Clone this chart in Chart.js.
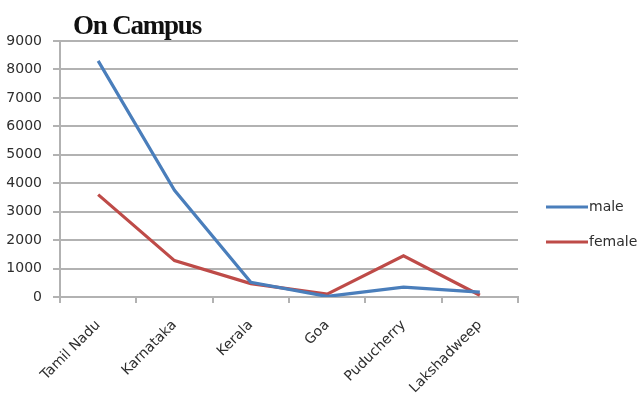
<!DOCTYPE html>
<html>
<head>
<meta charset="utf-8">
<script src="https://cdn.jsdelivr.net/npm/chart.js@4/dist/chart.umd.min.js"></script>
<style>
  html, body { margin: 0; padding: 0; background: #fff; }
  #wrap { width: 641px; height: 402px; position: relative; }
</style>
</head>
<body>
<div id="wrap"><canvas id="c" width="641" height="402"></canvas></div>
<script>
// Students on campus, by state
const titleText = 'On Campus';
const states = ['Tamil Nadu', 'Karnataka', 'Kerala', 'Goa', 'Puducherry', 'Lakshadweep'];
const male = [8300, 3750, 520, 20, 350, 170];
const female = [3600, 1280, 470, 100, 1450, 60];
const yTicks = [0, 1000, 2000, 3000, 4000, 5000, 6000, 7000, 8000, 9000];

const BLUE = '#4a7ebb';
const RED = '#be4b48';
const GRID = '#b2b2b2';
const TEXT = '#2e2e2e';
const SANS = '"DejaVu Sans", sans-serif';

// Title at top-left and a legend to the right of the plot
const decorations = {
  id: 'decorations',
  afterDraw(chart) {
    const ctx = chart.ctx;
    ctx.save();
    ctx.fillStyle = '#111';
    ctx.font = 'bold 27px "Liberation Serif", serif';
    ctx.letterSpacing = '-1.2px';
    ctx.textAlign = 'left';
    ctx.textBaseline = 'alphabetic';
    ctx.fillText(titleText, 73, 34);
    ctx.letterSpacing = '0px';

    const items = chart.data.datasets;
    items.forEach((ds, i) => {
      const y = 207 + i * 35;
      ctx.strokeStyle = ds.borderColor;
      ctx.lineWidth = 3;
      ctx.beginPath();
      ctx.moveTo(546, y);
      ctx.lineTo(588, y);
      ctx.stroke();
      ctx.fillStyle = TEXT;
      ctx.font = '14px ' + SANS;
      ctx.textBaseline = 'middle';
      ctx.fillText(ds.label, 589, y);
    });
    ctx.restore();
  }
};

new Chart(document.getElementById('c'), {
  type: 'line',
  data: {
    labels: states,
    datasets: [
      { label: 'male', data: male, borderColor: BLUE, backgroundColor: BLUE },
      { label: 'female', data: female, borderColor: RED, backgroundColor: RED }
    ]
  },
  options: {
    responsive: false,
    animation: false,
    devicePixelRatio: 1,
    layout: { padding: { top: 41, right: 123, left: 0, bottom: 0 } },
    elements: {
      line: { borderWidth: 3.2, tension: 0 },
      point: { radius: 0, hoverRadius: 0 }
    },
    plugins: {
      legend: { display: false },
      title: { display: false },
      tooltip: { enabled: false }
    },
    scales: {
      x: {
        offset: true,
        grid: { offset: true, drawOnChartArea: false, color: GRID, lineWidth: 2, tickLength: 6 },
        border: { color: GRID, width: 2 },
        ticks: {
          color: TEXT,
          font: { family: SANS, size: 14 },
          minRotation: 45,
          maxRotation: 45,
          padding: 14,
          autoSkip: false
        },
        afterFit(scale) { scale.height = 105; }
      },
      y: {
        min: 0,
        max: 9000,
        afterBuildTicks(scale) { scale.ticks = yTicks.map(v => ({ value: v })); },
        grid: { color: GRID, lineWidth: 2, tickLength: 7 },
        border: { color: GRID, width: 2 },
        ticks: {
          color: TEXT,
          font: { family: SANS, size: 14 },
          padding: 11,
          callback: (v) => String(v)
        },
        afterFit(scale) { scale.width = 60; }
      }
    }
  },
  plugins: [decorations]
});
</script>
</body>
</html>
